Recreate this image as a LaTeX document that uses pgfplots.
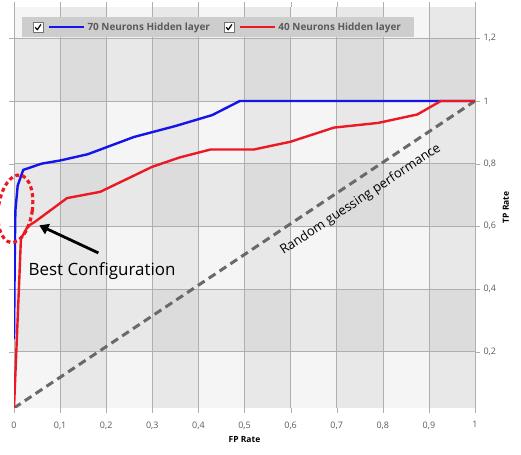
\documentclass[border=0pt]{standalone}
\usepackage{fontspec}
\setmainfont{Open Sans}
\usepackage{pgfplots}
\pgfplotsset{compat=1.18}
\usetikzlibrary{arrows.meta}
\definecolor{tickgray}{RGB}{90,90,90}
\definecolor{gridgray}{RGB}{175,175,175}
\definecolor{diaggray}{RGB}{105,105,105}
\definecolor{rocblue}{RGB}{20,20,235}
\definecolor{rocred}{RGB}{235,25,35}
\definecolor{legbg}{RGB}{205,205,205}
\begin{document}
\begin{tikzpicture}
\begin{axis}[
    set layers,
    scale only axis,
    width=461bp, height=401bp,
    xmin=0, xmax=1, ymin=0.02, ymax=1.3,
    xtick={0,0.1,...,1.01},
    ytick={0.2,0.4,0.6,0.8,1,1.2},
    yticklabel pos=right,
    /pgf/number format/use comma,
    /pgf/number format/assume math mode=true,
    tick label style={font=\fontsize{9}{10}\selectfont, text=tickgray},
    xticklabel style={yshift=-5bp},
    grid=major,
    major grid style={gridgray, line width=0.6bp},
    major tick length=5bp,
    tick style={gridgray},
    tick align=outside,
    axis line style={draw=none},
    xlabel={\textbf{FP Rate}},
    ylabel={\textbf{TP Rate}},
    label style={font=\fontsize{8.5}{10}\selectfont},
    legend columns=2,
    legend style={at={(0.017,0.975)}, anchor=north west, fill=legbg, draw=none,
        font=\bfseries\fontsize{10}{12}\selectfont, text=tickgray,
        inner xsep=11bp, inner ysep=3.5bp,
        /tikz/every even column/.append style={column sep=12bp}},
    legend image code/.code={
        \draw[black!55, fill=white, line width=0.5bp, solid] (-0.02cm,-0.16cm) rectangle (0.32cm,0.16cm);
        \draw[black, line width=1.2bp, solid] (0.05cm,0.0cm) -- (0.12cm,-0.09cm) -- (0.25cm,0.1cm);
        \draw[#1] (0.55cm,0cm) -- (1.78cm,0cm);
    },
]
\begin{pgfonlayer}{axis background}
\fill[white!96!black] (axis cs:0,0.02) rectangle (axis cs:1,1.3);
\fill[black, opacity=0.05] (axis cs:0.1,0.02) rectangle (axis cs:0.2,1.3);
\fill[black, opacity=0.05] (axis cs:0.3,0.02) rectangle (axis cs:0.4,1.3);
\fill[black, opacity=0.05] (axis cs:0.5,0.02) rectangle (axis cs:0.6,1.3);
\fill[black, opacity=0.05] (axis cs:0.7,0.02) rectangle (axis cs:0.8,1.3);
\fill[black, opacity=0.05] (axis cs:0.9,0.02) rectangle (axis cs:1.0,1.3);
\fill[black, opacity=0.05] (axis cs:0,0.2) rectangle (axis cs:1,0.4);
\fill[black, opacity=0.05] (axis cs:0,0.6) rectangle (axis cs:1,0.8);
\fill[black, opacity=0.05] (axis cs:0,1.0) rectangle (axis cs:1,1.2);
\end{pgfonlayer}

% random guessing diagonal
\addplot[diaggray, line width=3bp, dash pattern=on 8bp off 5bp, forget plot]
    coordinates {(0,0.02) (1,1)};

\addplot[rocblue, line width=2.4bp, line join=round] coordinates {
    (0,0.24) (0.002,0.55) (0.003,0.65) (0.008,0.73) (0.02,0.78)
    (0.06,0.80) (0.1,0.81) (0.16,0.83) (0.26,0.885) (0.35,0.92)
    (0.43,0.955) (0.49,1) (1,1)
};
\addlegendentry{70 Neurons Hidden layer}

\addplot[rocred, line width=2.4bp, line join=round] coordinates {
    (0,0.02) (0.012,0.45) (0.015,0.56) (0.03,0.6) (0.046,0.615)
    (0.115,0.69) (0.187,0.71) (0.30,0.79) (0.36,0.82) (0.426,0.845)
    (0.52,0.845) (0.6,0.87) (0.694,0.915) (0.79,0.93) (0.875,0.957)
    (0.926,1.0) (1,1)
};
\addlegendentry{40 Neurons Hidden layer}

\node[rotate=33.6, font=\fontsize{13}{15}\selectfont] at (axis cs:0.752,0.685) {Random guessing performance};
\coordinate (ec) at (axis cs:0.003,0.656);
\draw[black, line width=2.8bp, -{Triangle[length=9bp, width=11bp]}]
    (axis cs:0.183,0.515) -- (axis cs:0.055,0.603);
\node[font=\fontsize{17}{19}\selectfont] at (axis cs:0.191,0.458) {Best Configuration};
\end{axis}
% highlight of the best configuration, drawn outside the axis clip
\draw[overlay, rocred, line width=3.2bp, dash pattern=on 4bp off 3bp, rotate around={-8:(ec)}]
    (ec) ellipse [x radius=17bp, y radius=34bp];
\path (-14bp,-47bp) (507bp,408bp);
\end{tikzpicture}
\end{document}
